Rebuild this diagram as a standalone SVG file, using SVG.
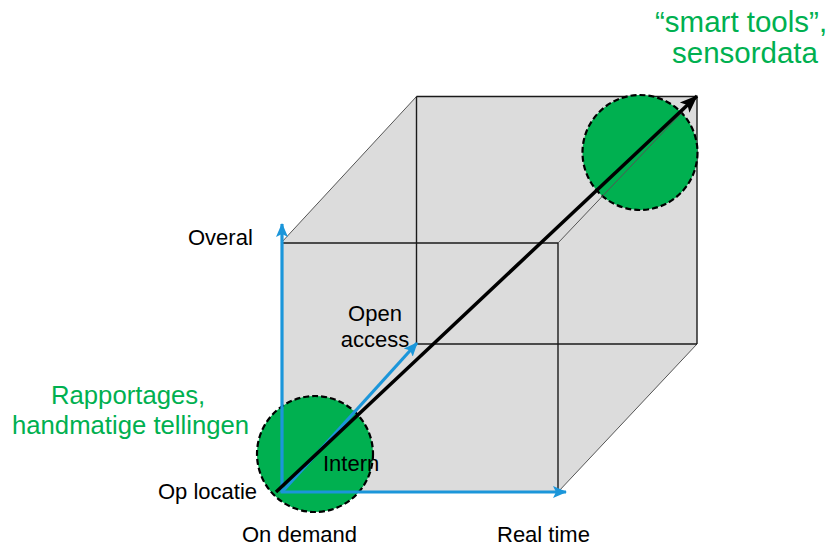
<svg xmlns="http://www.w3.org/2000/svg" width="837" height="547" viewBox="0 0 837 547">
<defs>
<marker id="blueHead" markerUnits="userSpaceOnUse" markerWidth="14" markerHeight="14" viewBox="0 0 14 14" refX="13" refY="7" orient="auto">
<path d="M0,1 L14,7 L0,13 L3,7 Z" fill="#1B96DA"/>
</marker>
<marker id="blackHead" markerUnits="userSpaceOnUse" markerWidth="18" markerHeight="16" viewBox="0 0 18 16" refX="17" refY="8" orient="auto">
<path d="M0,1 L18,8 L0,15 L4,8 Z" fill="#000"/>
</marker>
</defs>
<style>
.edge{stroke:#1a1a1a;stroke-width:1.4;fill:none}
.thin{stroke:#555;stroke-width:1;fill:none}
.blob{fill:#00B050;stroke:#000;stroke-width:2.2;stroke-dasharray:6 3}
.axis{stroke:#1B96DA;stroke-width:3.2;fill:none;marker-end:url(#blueHead)}
.main{stroke:#000;stroke-width:3.5;fill:none;marker-end:url(#blackHead)}
.lbl{font-family:"Liberation Sans",Arial,sans-serif;font-size:22px;fill:#000}
.glbl{font-family:"Liberation Sans",Arial,sans-serif;fill:#00B050}
</style>
<g id="cube">
<polygon points="281,243 416.5,96.5 697,96.5 697,344 558,492 281,492" fill="#DCDCDC" stroke="none"/>
<line class="thin" x1="281" y1="243" x2="416.5" y2="96.5"/>
<line class="thin" x1="697" y1="344" x2="558" y2="492"/>
<line class="edge" x1="416.5" y1="96.5" x2="697" y2="96.5"/>
<line class="edge" x1="697" y1="96.5" x2="697" y2="344"/>
<line class="edge" x1="416.5" y1="96.5" x2="416.5" y2="344"/>
<line class="edge" x1="416.5" y1="344" x2="697" y2="344"/>
<line class="edge" x1="281" y1="243" x2="558" y2="243"/>
<line class="edge" x1="558" y1="243" x2="558" y2="492"/>
</g>
<g id="circle-local">
<circle class="blob" cx="315" cy="454" r="58"/>
</g>
<g id="circle-smart">
<circle class="blob" cx="640" cy="152.5" r="57.5"/>
</g>
<g id="cube-hidden-edge">
<line class="thin" x1="558" y1="243" x2="697" y2="96.5"/>
</g>
<g id="connectors">
<line class="axis" x1="282" y1="492" x2="282" y2="224"/>
<line class="axis" x1="280.5" y1="492" x2="566" y2="492"/>
<line class="axis" x1="282" y1="492" x2="417" y2="343"/>
<line class="main" x1="276" y1="492" x2="697" y2="96"/>
</g>
<g id="labels">
<text class="lbl" x="188" y="245">Overal</text>
<text class="lbl" x="375" y="321" text-anchor="middle">Open</text>
<text class="lbl" x="375" y="347" text-anchor="middle">access</text>
<text class="lbl" x="323" y="471">Intern</text>
<text class="lbl" x="158" y="499">Op locatie</text>
<text class="lbl" x="242" y="542">On demand</text>
<text class="lbl" x="497" y="542">Real time</text>
</g>
<g id="note-smart">
<text class="glbl" font-size="29.5" x="655" y="32">“smart tools”,</text>
<text class="glbl" font-size="29.5" x="672" y="63">sensordata</text>
</g>
<g id="note-rapport">
<text class="glbl" font-size="25.7" x="51" y="404">Rapportages,</text>
<text class="glbl" font-size="25.7" x="12" y="434">handmatige tellingen</text>
</g>
</svg>
